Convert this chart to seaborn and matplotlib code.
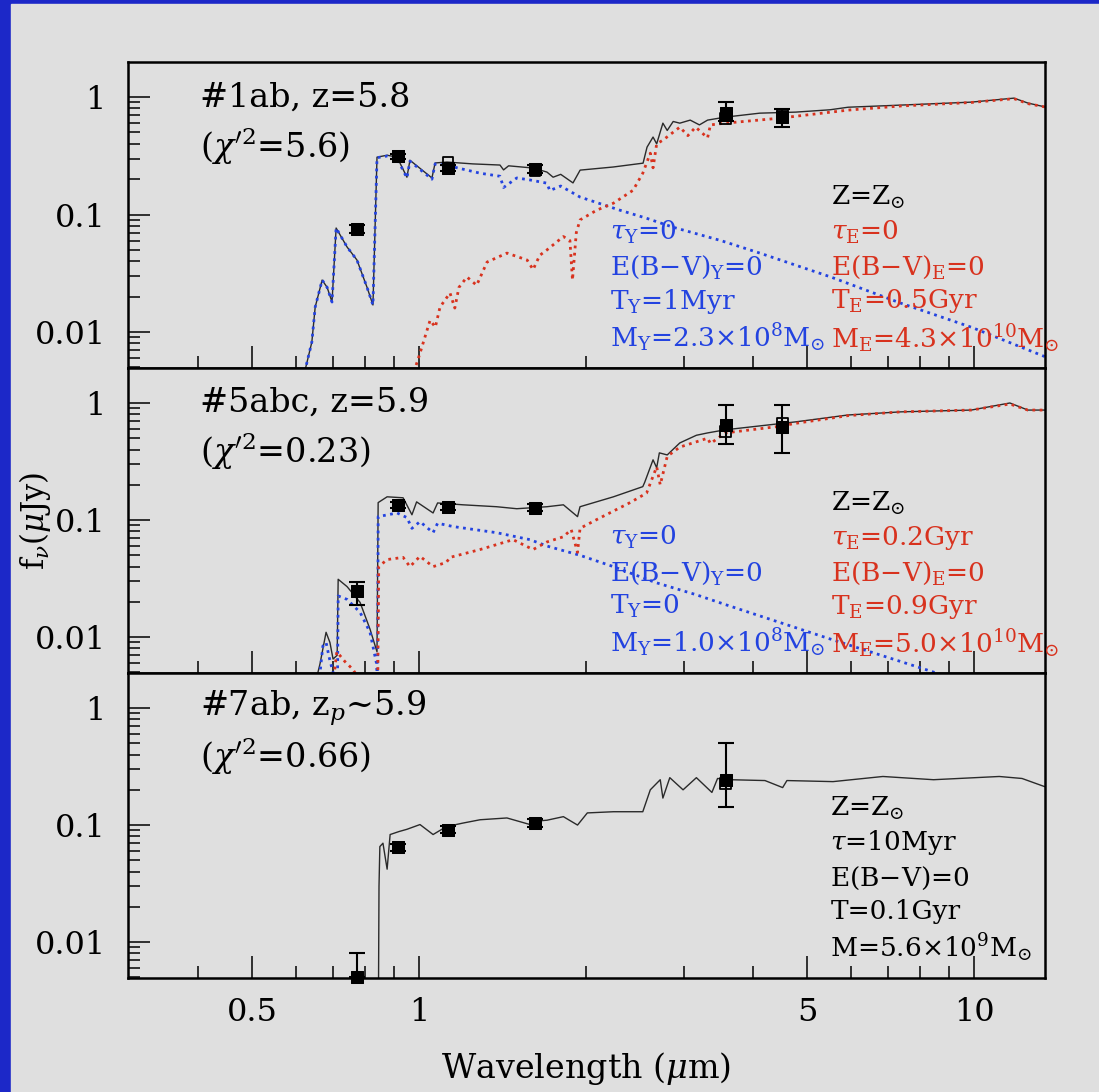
import matplotlib
matplotlib.use("Agg")
import matplotlib.pyplot as plt
from matplotlib.patches import Rectangle
from matplotlib.ticker import FixedLocator, FixedFormatter, LogLocator, NullFormatter
import seaborn as sns

# ----------------------------
# Data
# ----------------------------

# panel 1  (#1ab)
lam1_tot = [0.618, 0.641, 0.650, 0.669, 0.683, 0.697, 0.709, 0.742, 0.773, 0.806,
            0.826, 0.840, 0.876, 0.913, 0.951, 0.963, 1.055, 1.069, 1.123, 1.25,
            1.399, 1.42, 1.45, 1.605, 1.70, 1.744, 1.80, 1.894, 1.951, 2.237,
            2.533, 2.575, 2.64, 2.68, 2.75, 2.80, 2.87, 2.95, 3.08, 3.20,
            3.31, 3.56, 4.11, 4.77, 5.50, 5.93, 7.38, 9.88, 11.8, 12.5, 13.5]
f1_tot = [0.004, 0.0082, 0.0163, 0.0277, 0.024, 0.018, 0.0768, 0.0529, 0.041, 0.024,
          0.017, 0.308, 0.32, 0.308, 0.208, 0.29, 0.205, 0.275, 0.28, 0.27,
          0.264, 0.24, 0.26, 0.249, 0.23, 0.208, 0.22, 0.186, 0.239, 0.254,
          0.274, 0.375, 0.457, 0.40, 0.60, 0.52, 0.62, 0.60, 0.637, 0.58,
          0.637, 0.675, 0.73, 0.745, 0.78, 0.82, 0.855, 0.906, 0.98, 0.89, 0.82]

lam1_young = [0.618, 0.641, 0.650, 0.669, 0.683, 0.697, 0.709, 0.742, 0.773, 0.806,
              0.826, 0.840, 0.876, 0.913, 0.951, 0.963, 1.055, 1.069, 1.123, 1.288,
              1.399, 1.42, 1.50, 1.585, 1.70, 1.72, 1.80, 1.95, 2.30, 2.57,
              2.87, 3.50, 4.11, 5.52, 7.38, 9.88, 13.5]
f1_young = [0.004, 0.0082, 0.0163, 0.0277, 0.024, 0.018, 0.0768, 0.0529, 0.041, 0.024,
            0.017, 0.305, 0.315, 0.30, 0.205, 0.285, 0.20, 0.27, 0.262, 0.225,
            0.212, 0.17, 0.205, 0.197, 0.185, 0.16, 0.175, 0.141, 0.109, 0.093,
            0.078, 0.060, 0.047, 0.0294, 0.0176, 0.011, 0.0061]

lam1_old = [0.97, 1.004, 1.047, 1.07, 1.091, 1.137, 1.16, 1.18, 1.22, 1.27,
            1.326, 1.44, 1.50, 1.566, 1.605, 1.65, 1.70, 1.82, 1.87, 1.89,
            1.92, 1.95, 2.09, 2.24, 2.43, 2.53, 2.61, 2.64, 2.68, 2.75,
            2.95, 3.05, 3.15, 3.31, 3.35, 3.56, 4.44, 5.93, 7.38, 9.88,
            11.8, 12.5, 13.5]
f1_old = [0.004, 0.0066, 0.0126, 0.011, 0.0163, 0.0215, 0.016, 0.024, 0.0294, 0.025,
          0.0394, 0.047, 0.044, 0.041, 0.034, 0.045, 0.05, 0.065, 0.06, 0.0277,
          0.07, 0.09, 0.109, 0.125, 0.161, 0.225, 0.333, 0.25, 0.40, 0.43,
          0.555, 0.47, 0.555, 0.45, 0.58, 0.60, 0.66, 0.775, 0.84, 0.90,
          0.97, 0.88, 0.82]

# panel 2  (#5abc)
lam2_tot = [0.650, 0.663, 0.680, 0.691, 0.700, 0.712, 0.715, 0.742, 0.783, 0.816,
            0.840, 0.844, 0.876, 0.936, 0.971, 0.99, 1.06, 1.08, 1.20, 1.38,
            1.50, 1.70, 1.82, 1.93, 1.95, 2.24, 2.53, 2.55, 2.64, 2.68,
            2.71, 2.80, 2.95, 3.16, 3.31, 3.56, 4.77, 5.93, 7.38, 9.88,
            11.6, 12.5, 13.5]
f2_tot = [0.004, 0.0059, 0.011, 0.009, 0.0065, 0.007, 0.0312, 0.027, 0.0198, 0.0117,
          0.0075, 0.141, 0.158, 0.155, 0.111, 0.143, 0.115, 0.14, 0.135, 0.13,
          0.125, 0.13, 0.135, 0.107, 0.13, 0.158, 0.193, 0.21, 0.327, 0.28,
          0.375, 0.36, 0.456, 0.53, 0.555, 0.59, 0.69, 0.79, 0.84, 0.87,
          1.0, 0.87, 0.87]

lam2_young = [0.660, 0.671, 0.680, 0.690, 0.700, 0.713, 0.715, 0.742, 0.783, 0.816,
              0.838, 0.842, 0.844, 0.913, 0.951, 0.971, 1.004, 1.06, 1.08, 1.152,
              1.38, 1.585, 1.70, 1.95, 2.24, 2.66, 3.16, 3.56, 5.52, 8.07, 9.5]
f2_young = [0.004, 0.0084, 0.009, 0.0065, 0.005, 0.004, 0.0225, 0.021, 0.0163, 0.011,
            0.006, 0.004, 0.107, 0.115, 0.105, 0.085, 0.097, 0.078, 0.094, 0.088,
            0.078, 0.068, 0.06, 0.05, 0.04, 0.0294, 0.023, 0.019, 0.0096, 0.0054, 0.0042]

lam2_old = [0.700, 0.711, 0.735, 0.760, 0.790, 0.842, 0.846, 0.876, 0.936, 0.963,
            1.004, 1.06, 1.12, 1.137, 1.288, 1.477, 1.605, 1.70, 1.82, 1.88,
            1.93, 1.95, 2.09, 2.40, 2.57, 2.68, 2.72, 2.80, 2.95, 3.31,
            3.35, 3.56, 4.44, 4.77, 5.93, 7.38, 9.88, 11.6, 12.5, 13.5]
f2_old = [0.004, 0.0075, 0.0062, 0.0053, 0.004, 0.003, 0.04, 0.046, 0.048, 0.04,
          0.049, 0.04, 0.0435, 0.048, 0.056, 0.068, 0.056, 0.065, 0.072, 0.083,
          0.053, 0.085, 0.101, 0.141, 0.17, 0.285, 0.2, 0.35, 0.42, 0.5,
          0.45, 0.555, 0.63, 0.67, 0.78, 0.84, 0.87, 0.98, 0.87, 0.87]

# panel 3  (#7ab)
lam3_tot = [0.845, 0.847, 0.850, 0.861, 0.876, 0.887, 0.92, 0.951, 1.004, 1.06,
            1.12, 1.20, 1.288, 1.44, 1.585, 1.62, 1.70, 1.82, 1.93, 2.01,
            2.24, 2.53, 2.61, 2.72, 2.75, 2.83, 2.99, 3.16, 3.37, 3.45,
            3.64, 4.2, 4.52, 4.6, 5.57, 6.85, 8.45, 11.1, 12.2, 13.4]
f3_tot = [0.003, 0.03, 0.0655, 0.07, 0.042, 0.083, 0.088, 0.092, 0.101, 0.083,
          0.097, 0.104, 0.111, 0.115, 0.101, 0.108, 0.11, 0.118, 0.1, 0.127,
          0.13, 0.13, 0.2, 0.244, 0.17, 0.254, 0.2, 0.254, 0.19, 0.25,
          0.244, 0.24, 0.209, 0.24, 0.235, 0.26, 0.244, 0.26, 0.25, 0.213]

# photometry
phot_lam = [0.773, 0.917, 1.128, 1.618, 3.57, 4.51]

p1_f = [0.0753, 0.315, 0.249, 0.244, 0.73, 0.676]
p1_lo = [0.006, 0.015, 0.015, 0.02, 0.10, 0.12]
p1_hi = [0.006, 0.015, 0.015, 0.02, 0.18, 0.114]
p1_model_lam = [0.917, 1.128, 1.618, 3.57, 4.51]
p1_model = [0.31, 0.28, 0.235, 0.66, 0.70]

p2_f = [0.0246, 0.135, 0.13, 0.128, 0.65, 0.625]
p2_lo = [0.0056, 0.008, 0.008, 0.008, 0.20, 0.25]
p2_hi = [0.0048, 0.008, 0.008, 0.008, 0.31, 0.335]
p2_model_lam = [3.57, 4.51]
p2_model = [0.567, 0.675]

p3_lam = [0.773, 0.917, 1.128, 1.618, 3.57]
p3_f = [0.005, 0.0644, 0.0916, 0.105, 0.244]
p3_lo = [0.0, 0.004, 0.006, 0.008, 0.10]
p3_hi = [0.0031, 0.004, 0.006, 0.008, 0.26]
p3_model_lam = [3.57]
p3_model = [0.225]

# ----------------------------
# Style
# ----------------------------

BLUE_BG = "#1c28c8"
GRAY = "#dfdfdf"
C_YOUNG = "#2343e0"
C_OLD = "#d8321e"
C_TOT = "#2a2a2a"

sns.set_theme(style="ticks")
plt.rcParams["font.family"] = ["DejaVu Serif"]
plt.rcParams["mathtext.fontset"] = "dejavuserif"

fig = plt.figure(figsize=(10.99, 10.92), dpi=100)
fig.patch.set_facecolor(BLUE_BG)
fig.add_artist(Rectangle((11 / 1099, 0), 1, 1 - 4 / 1092,
                         transform=fig.transFigure, color=GRAY, zorder=-5))

left, width = 128 / 1099, 917 / 1099
bottoms = [1 - 368 / 1092, 1 - 673 / 1092, 1 - 978 / 1092]
heights = [306 / 1092, 305 / 1092, 305 / 1092]
axes = [fig.add_axes([left, b, width, h]) for b, h in zip(bottoms, heights)]

dots = (0, (1, 1.6))


def style_axis(ax, show_xlabels):
    ax.set_xscale("log")
    ax.set_yscale("log")
    ax.set_xlim(0.299, 13.42)
    ax.set_ylim(0.00494, 1.99)
    ax.set_facecolor(GRAY)
    for s in ax.spines.values():
        s.set_linewidth(1.8)
        s.set_color("black")
    ax.xaxis.set_major_locator(FixedLocator([0.5, 1, 5, 10]))
    ax.xaxis.set_minor_locator(FixedLocator([0.4, 0.6, 0.7, 0.8, 0.9, 2, 3, 4, 6, 7, 8, 9]))
    ax.xaxis.set_minor_formatter(NullFormatter())
    if show_xlabels:
        ax.xaxis.set_major_formatter(FixedFormatter(["0.5", "1", "5", "10"]))
    else:
        ax.xaxis.set_major_formatter(NullFormatter())
    ax.yaxis.set_major_locator(FixedLocator([0.01, 0.1, 1]))
    ax.yaxis.set_major_formatter(FixedFormatter(["0.01", "0.1", "1"]))
    ax.yaxis.set_minor_locator(LogLocator(base=10, subs=range(2, 10)))
    ax.yaxis.set_minor_formatter(NullFormatter())
    ax.tick_params(which="both", direction="in", top=False, right=False,
                   colors="black", width=1.1, labelsize=23)
    ax.tick_params(which="major", length=16)
    ax.tick_params(which="minor", length=8.5)
    ax.tick_params(axis="y", which="major", pad=16)
    ax.tick_params(axis="x", which="major", pad=14)


def draw_spec(ax, lam, f, color, ls, lw):
    sns.lineplot(x=lam, y=f, ax=ax, color=color, linestyle=ls, linewidth=lw,
                 sort=False, estimator=None, legend=False)


def draw_phot(ax, lam, f, lo, hi, mlam, mf):
    ax.errorbar(lam, f, yerr=[lo, hi], fmt="none", ecolor="black",
                elinewidth=1.5, capsize=6, capthick=1.5, zorder=4, clip_on=False)
    sns.scatterplot(x=lam, y=f, ax=ax, marker="s", s=85, color="black",
                    edgecolor="black", zorder=5, legend=False, clip_on=False)
    sns.scatterplot(x=mlam, y=mf, ax=ax, marker="s", s=60, facecolor="none",
                    edgecolor="black", linewidth=1.3, zorder=6, legend=False)


for i, ax in enumerate(axes):
    style_axis(ax, i == 2)

# panel 1
ax = axes[0]
draw_spec(ax, lam1_tot, f1_tot, C_TOT, "-", 1.0)
draw_spec(ax, lam1_young, f1_young, C_YOUNG, dots, 2.0)
draw_spec(ax, lam1_old, f1_old, C_OLD, dots, 2.0)
draw_phot(ax, phot_lam, p1_f, p1_lo, p1_hi, p1_model_lam, p1_model)

# panel 2
ax = axes[1]
draw_spec(ax, lam2_tot, f2_tot, C_TOT, "-", 1.0)
draw_spec(ax, lam2_young, f2_young, C_YOUNG, dots, 2.0)
draw_spec(ax, lam2_old, f2_old, C_OLD, dots, 2.0)
draw_phot(ax, phot_lam, p2_f, p2_lo, p2_hi, p2_model_lam, p2_model)

# panel 3
ax = axes[2]
draw_spec(ax, lam3_tot, f3_tot, C_TOT, "-", 1.0)
draw_phot(ax, p3_lam, p3_f, p3_lo, p3_hi, p3_model_lam, p3_model)

# ----------------------------
# Annotations
# ----------------------------

titles = [("#1ab, z=5.8", r"($\chi^{\prime 2}$=5.6)"),
          ("#5abc, z=5.9", r"($\chi^{\prime 2}$=0.23)"),
          (r"#7ab, z$_{p}$~5.9", r"($\chi^{\prime 2}$=0.66)")]
for ax, (t1, t2) in zip(axes, titles):
    ax.text(0.0785, 0.885, t1, transform=ax.transAxes, fontsize=24,
            ha="left", va="center", color="black")
    ax.text(0.0785, 0.725, t2, transform=ax.transAxes, fontsize=24,
            ha="left", va="center", color="black")

rows = [0.443, 0.328, 0.218, 0.098]
young_txt = [
    [r"$\tau_{\rm Y}$=0", r"E(B$-$V)$_{\rm Y}$=0", r"T$_{\rm Y}$=1Myr",
     r"M$_{\rm Y}$=2.3$\times$10$^{8}$M$_{\odot}$"],
    [r"$\tau_{\rm Y}$=0", r"E(B$-$V)$_{\rm Y}$=0", r"T$_{\rm Y}$=0",
     r"M$_{\rm Y}$=1.0$\times$10$^{8}$M$_{\odot}$"],
]
old_txt = [
    [r"$\tau_{\rm E}$=0", r"E(B$-$V)$_{\rm E}$=0", r"T$_{\rm E}$=0.5Gyr",
     r"M$_{\rm E}$=4.3$\times$10$^{10}$M$_{\odot}$"],
    [r"$\tau_{\rm E}$=0.2Gyr", r"E(B$-$V)$_{\rm E}$=0", r"T$_{\rm E}$=0.9Gyr",
     r"M$_{\rm E}$=5.0$\times$10$^{10}$M$_{\odot}$"],
]
for k in range(2):
    ax = axes[k]
    ax.text(0.767, 0.557, r"Z=Z$_{\odot}$", transform=ax.transAxes,
            fontsize=19, ha="left", va="center", color="black")
    for y, ty, to in zip(rows, young_txt[k], old_txt[k]):
        ax.text(0.526, y, ty, transform=ax.transAxes, fontsize=19,
                ha="left", va="center", color=C_YOUNG)
        ax.text(0.767, y, to, transform=ax.transAxes, fontsize=19,
                ha="left", va="center", color=C_OLD)

single_txt = [r"Z=Z$_{\odot}$", r"$\tau$=10Myr", "E(B$-$V)=0", "T=0.1Gyr",
              r"M=5.6$\times$10$^{9}$M$_{\odot}$"]
for y, t in zip([0.557] + rows, single_txt):
    axes[2].text(0.766, y, t, transform=axes[2].transAxes, fontsize=19,
                 ha="left", va="center", color="black")

axes[2].set_xlabel(r"Wavelength ($\mu$m)", fontsize=24, color="black")
axes[2].xaxis.set_label_coords(0.5, -0.235)
axes[1].set_ylabel(r"f$_{\nu}$($\mu$Jy)", fontsize=22, color="black")
axes[1].yaxis.set_label_coords(-0.082, 0.5)

fig.savefig("out.png", dpi=100, facecolor=fig.get_facecolor())
